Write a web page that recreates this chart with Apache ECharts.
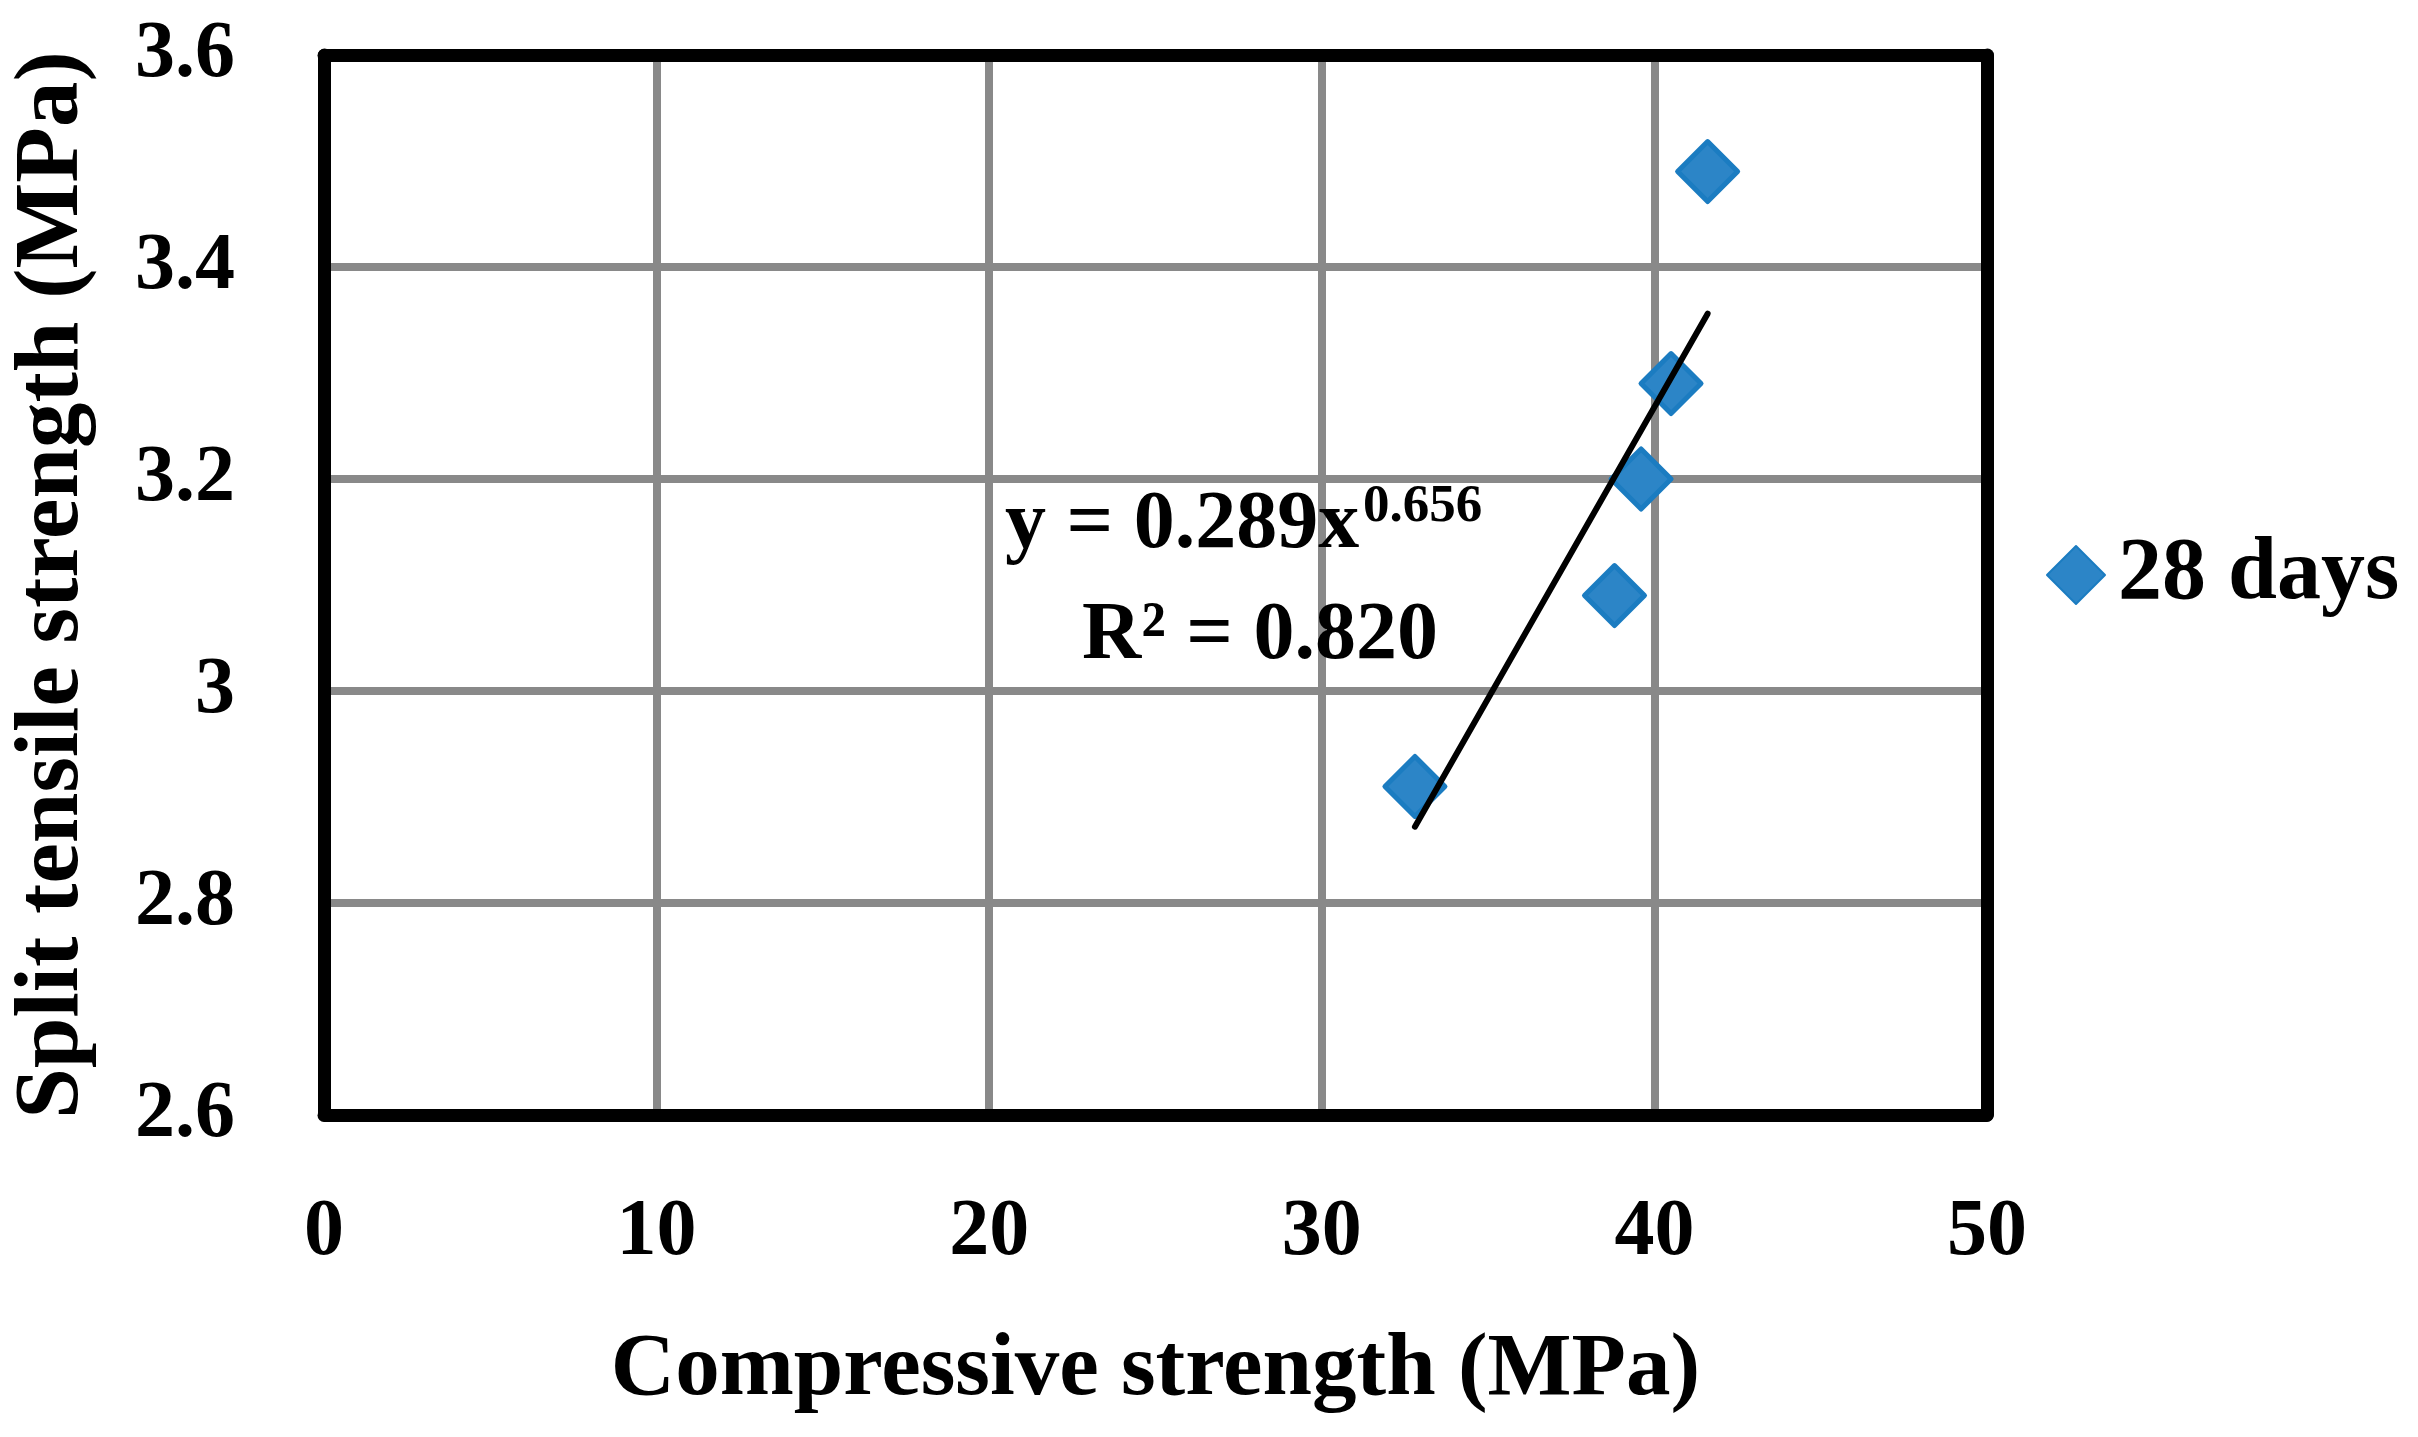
<!DOCTYPE html>
<html>
<head>
<meta charset="utf-8">
<script src="https://cdn.jsdelivr.net/npm/echarts@6/dist/echarts.min.js"></script>
<style>
html,body{margin:0;padding:0;background:#fff;}
#chart{width:2418px;height:1437px;}
</style>
</head>
<body>
<div id="chart"></div>
<script>
// Data
const compressive = [32.8, 38.8, 39.6, 40.5, 41.6];
const splitTensile = [2.91, 3.09, 3.20, 3.29, 3.49];
const trendX = [32.8, 41.6];
const trendY = [2.872, 3.356];
const seriesName = '28 days';
const xTitle = 'Compressive strength (MPa)';
const yTitle = 'Split tensile strength (MPa)';
const eqLine1 = 'y = 0.289x';
const eqExp = '0.656';
const eqLine2 = 'R\u00b2 = 0.820';

const FONT = "'Liberation Serif', 'Times New Roman', serif";
const chart = echarts.init(document.getElementById('chart'), null, {renderer: 'canvas'});

const option = {
  backgroundColor: '#fff',
  animation: false,
  grid: {left: 322, right: 431, top: 55, bottom: 322, containLabel: false},
  legend: {
    data: [{name: seriesName}],
    left: 2041, top: 526,
    orient: 'vertical',
    itemWidth: 58, itemHeight: 58,
    textStyle: {fontFamily: FONT, fontWeight: 'bold', fontSize: 88, color: '#000', padding: [0, 0, 0, 8]}
  },
  xAxis: [{
    type: 'value', min: 0, max: 50, interval: 10,
    name: xTitle, nameLocation: 'middle', nameGap: 212,
    nameTextStyle: {fontFamily: FONT, fontWeight: 'bold', fontSize: 89, color: '#000'},
    axisLine: {show: true, onZero: false, lineStyle: {color: '#000', width: 13}},
    axisTick: {show: false},
    axisLabel: {margin: 78, fontFamily: FONT, fontWeight: 'bold', fontSize: 80, color: '#000'},
    splitLine: {show: true, lineStyle: {color: '#898989', width: 8}}
  }, {
    type: 'value', min: 0, max: 50, interval: 10, position: 'top',
    axisLine: {show: true, onZero: false, lineStyle: {color: '#000', width: 13}},
    axisTick: {show: false}, axisLabel: {show: false}, splitLine: {show: false}
  }],
  yAxis: [{
    type: 'value', min: 2.6, max: 3.6, interval: 0.2,
    name: yTitle, nameLocation: 'middle', nameGap: 225, nameRotate: 90,
    nameTextStyle: {fontFamily: FONT, fontWeight: 'bold', fontSize: 91, color: '#000'},
    axisLine: {show: true, onZero: false, lineStyle: {color: '#000', width: 13}},
    axisTick: {show: false},
    axisLabel: {margin: 89, fontFamily: FONT, fontWeight: 'bold', fontSize: 80, color: '#000',
      formatter: function (v) { return String(Math.round(v * 10) / 10); }},
    splitLine: {show: true, lineStyle: {color: '#898989', width: 8}}
  }, {
    type: 'value', min: 2.6, max: 3.6, interval: 0.2, position: 'right',
    axisLine: {show: true, onZero: false, lineStyle: {color: '#000', width: 13}},
    axisTick: {show: false}, axisLabel: {show: false}, splitLine: {show: false}
  }],
  series: [{
    name: 'trend', type: 'line',
    data: trendX.map((x, i) => [x, trendY[i]]),
    showSymbol: false, symbol: 'none',
    lineStyle: {color: '#000', width: 6, cap: 'round'},
    z: 3, silent: true
  }, {
    name: seriesName, type: 'scatter',
    data: compressive.map((x, i) => [x, splitTensile[i]]),
    symbol: 'diamond', symbolSize: 60,
    itemStyle: {color: '#2C85C7', borderColor: '#1B7CC1', borderWidth: 5, borderJoin: 'round', opacity: 1},
    z: 2
  }],
  graphic: [
    {type: 'text', style: {x: 1005, y: 526, text: eqLine1, font: "bold 82px " + FONT, fill: '#000', textAlign: 'left', textVerticalAlign: 'middle', verticalAlign: 'middle'}, z: 10},
    {type: 'text', style: {x: 1363, y: 507, text: eqExp, font: "bold 53px " + FONT, fill: '#000', textAlign: 'left', textVerticalAlign: 'middle', verticalAlign: 'middle'}, z: 10},
    {type: 'text', style: {x: 1082, y: 637, text: eqLine2, font: "bold 82px " + FONT, fill: '#000', textAlign: 'left', textVerticalAlign: 'middle', verticalAlign: 'middle'}, z: 10}
  ]
};
chart.setOption(option);
</script>
</body>
</html>
